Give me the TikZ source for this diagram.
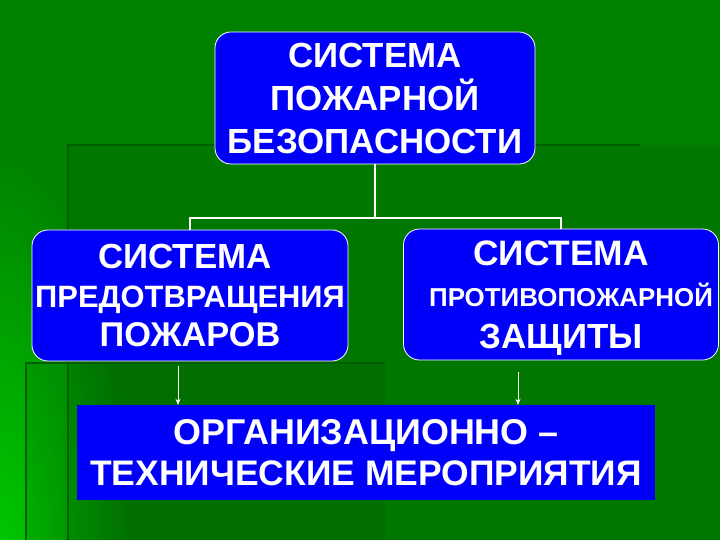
\documentclass[tikz,border=0pt]{standalone}
\usepackage{fontspec}
\setmainfont{Liberation Sans}
\usepackage{tikz}
\usetikzlibrary{positioning, calc, fadings, arrows.meta}
\usepackage{xcolor}

\definecolor{slidegreen}{RGB}{0,130,0}
\definecolor{lightgreen}{RGB}{0,205,0}
\definecolor{edgegreen}{RGB}{0,95,0}
\definecolor{boxblue}{RGB}{0,0,250}

\tikzfading[name=cornerfade, inner color=transparent!0, outer color=transparent!100]

\tikzset{
  sysbox/.style={draw=white, line width=0.8bp, fill=boxblue, rounded corners=16bp,
    text=white, align=center, inner sep=0pt, text depth=0pt},
  orgbox/.style={fill=boxblue, text=white, align=center, inner sep=0pt, text depth=0pt},
  link/.style={draw=white, line width=1.6bp},
  arr/.style={draw=white, line width=0.7bp, -{Stealth[length=6bp, width=5bp]}}
}

\begin{document}
\begin{tikzpicture}[x=1bp, y=-1bp]
  \useasboundingbox (0,0) rectangle (720,540);
  \fill[slidegreen] (0,0) rectangle (720,540);
  \fill[lightgreen, path fading=cornerfade] (0,580) ellipse (130 and 430);
  \fill[black, opacity=0.07] (68,145) rectangle (720,540);
  \fill[black, opacity=0.07] (26,363) rectangle (385,540);
  \draw[edgegreen, line width=2.5bp] (68,540) -- (68,145) -- (640,145);
  \draw[edgegreen, line width=2bp] (26,540) -- (26,363) -- (385,363);

  \node[sysbox, minimum width=320bp, minimum height=132bp,
        font=\bfseries\fontsize{35}{43}\selectfont] (fsys) at (375,98)
        {СИСТЕМА\\ПОЖАРНОЙ\\БЕЗОПАСНОСТИ};

  \node[sysbox, minimum width=316bp, minimum height=131bp,
        font=\bfseries\fontsize{35}{39}\selectfont] (prev) at (190,295.5)
        {СИСТЕМА\hspace*{10bp}\\{\fontsize{31}{39}\selectfont ПРЕДОТВРАЩЕНИЯ}\\{\fontsize{34.5}{39}\selectfont ПОЖАРОВ}};

  \node[sysbox, minimum width=315bp, minimum height=131bp,
        font=\bfseries\fontsize{35.5}{41.5}\selectfont] (prot) at (561,294.5)
        {СИСТЕМА\\{\fontsize{26}{41.5}\selectfont\hspace*{20bp}ПРОТИВОПОЖАРНОЙ}\\{\fontsize{35}{41.5}\selectfont ЗАЩИТЫ}};

  \node[orgbox, minimum width=578bp, minimum height=95bp,
        font=\bfseries\fontsize{36}{42}\selectfont] (org) at (366,452.5)
        {ОРГАНИЗАЦИОННО –\\{\fontsize{35.6}{42}\selectfont ТЕХНИЧЕСКИЕ МЕРОПРИЯТИЯ}};

  \coordinate (bus) at (375,218);
  \draw[link] (fsys.south) -- (bus);
  \draw[link] (prev.north) |- (bus) -| (prot.north);

  \coordinate (pa) at ([shift={(-12,5)}]prev.south);
  \coordinate (pb) at ([shift={(-43,12)}]prot.south);
  \draw[arr] (pa) -- (pa |- org.north);
  \draw[arr] (pb) -- (pb |- org.north);
\end{tikzpicture}
\end{document}
